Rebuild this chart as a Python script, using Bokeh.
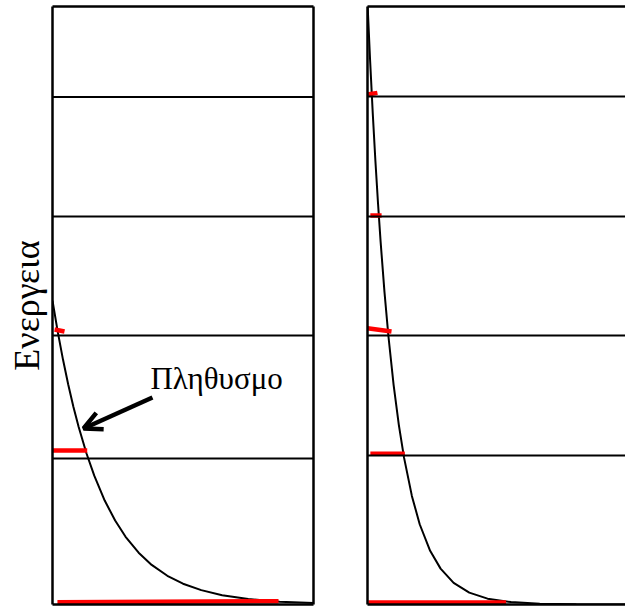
from bokeh.plotting import figure
from bokeh.models import Span, Label, Arrow, OpenHead, LinearAxis, FixedTicker, Range1d
from bokeh.layouts import row
from bokeh.embed import file_html
from bokeh.resources import INLINE

# Energy in arbitrary units (0 = ground level), population in % of panel width.

# --- high temperature (left panel) ---
hot_levels = [1.221, 2.249, 3.244, 4.243]
hot_bar_x0 = [1.9, 0.0, 0.8]
hot_bar_x1 = [86.6, 13.3, 4.6]
hot_bar_e0 = [0.019, 1.288, 2.299]
hot_bar_e1 = [0.028, 1.288, 2.283]
hot_curve_pop = [0, 2, 4, 6, 8, 10, 13, 16, 20, 24, 28, 33, 38, 44, 50, 57, 65, 75, 87, 100]
hot_curve_energy = [2.540, 2.282, 2.050, 1.841, 1.654, 1.486, 1.265, 1.077, 0.869, 0.702,
                    0.566, 0.433, 0.331, 0.240, 0.174, 0.120, 0.078, 0.046, 0.024, 0.012]

# --- low temperature (right panel) ---
cold_levels = [1.246, 2.249, 3.244, 4.247]
cold_bar_x0 = [0.3, 1.1, 0.0, 1.1, 0.0]
cold_bar_x1 = [53.1, 14.3, 9.2, 5.4, 3.8]
cold_bar_e0 = [0.017, 1.260, 2.310, 3.253, 4.264]
cold_bar_e1 = [0.017, 1.260, 2.283, 3.253, 4.278]
cold_curve_pop = [0, 1, 2, 3, 4, 5, 6.5, 8, 10, 12, 14, 17, 20, 24, 28, 33, 39, 46, 55, 66, 80, 100]
cold_curve_energy = [5.030, 4.548, 4.113, 3.719, 3.363, 3.040, 2.614, 2.247, 1.837, 1.502,
                     1.228, 0.908, 0.671, 0.449, 0.300, 0.181, 0.099, 0.049, 0.020, 0.0065,
                     0.0016, 0.0002]

y_label = "Ενεργεια"
note_text = "Πληθυσμο"

SERIF = "Liberation Serif"
E_TOP = 5.0
UNITS_PER_PX = 100 / 261


def border(**kw):
    return LinearAxis(ticker=FixedTicker(ticks=[]), axis_line_color="black",
                      axis_line_width=2.5, major_tick_out=0, major_tick_in=0,
                      minor_tick_out=0, minor_tick_in=0, major_label_standoff=0, **kw)


def panel(width, x_end, left_pad, right_pad, levels, curve_x, curve_y,
          bx0, bx1, be0, be1, closed=True, ylabel=None):
    p = figure(width=width, height=606, x_range=Range1d(0, x_end), y_range=Range1d(0, E_TOP),
               x_axis_location=None, y_axis_location=None,
               output_backend="svg", toolbar_location=None,
               min_border_left=left_pad, min_border_right=right_pad,
               min_border_top=6, min_border_bottom=2)
    p.outline_line_color = None
    p.grid.visible = False
    p.background_fill_color = "white"
    p.border_fill_color = "white"

    for e in levels:
        p.add_layout(Span(location=e, dimension="width", line_color="black", line_width=2))

    p.line(curve_x, curve_y, line_color="black", line_width=2)
    p.segment(x0=bx0, y0=be0, x1=bx1, y1=be1, line_color="#ff0000",
              line_width=4.5, line_cap="butt")

    left_axis = border()
    if ylabel:
        left_axis.axis_label = ylabel
        left_axis.axis_label_text_font = SERIF
        left_axis.axis_label_text_font_size = "36px"
        left_axis.axis_label_text_font_style = "normal"
        left_axis.axis_label_text_color = "black"
        left_axis.axis_label_standoff = 6
    p.add_layout(left_axis, "left")
    p.add_layout(border(), "below")
    p.add_layout(border(), "above")
    if closed:
        p.add_layout(border(), "right")
    return p


left = panel(340, 100, 52, 27, hot_levels, hot_curve_pop, hot_curve_energy,
             hot_bar_x0, hot_bar_x1, hot_bar_e0, hot_bar_e1, closed=True, ylabel=y_label)

left.add_layout(Label(x=37.5, y=1.89, text=note_text, text_font=SERIF,
                      text_font_size="31px", text_color="black",
                      text_baseline="alphabetic", text_align="left"))
left.add_layout(Arrow(x_start=38.3, y_start=1.731, x_end=11.9, y_end=1.472,
                      line_width=4.5, line_color="black",
                      end=OpenHead(size=18, line_width=4.5, line_color="black")))

right = panel(285, 258 * UNITS_PER_PX, 27, 0, cold_levels, cold_curve_pop, cold_curve_energy,
              cold_bar_x0, cold_bar_x1, cold_bar_e0, cold_bar_e1, closed=False)

layout = row(left, right)
open("out.html", "w").write(file_html(layout, INLINE))
